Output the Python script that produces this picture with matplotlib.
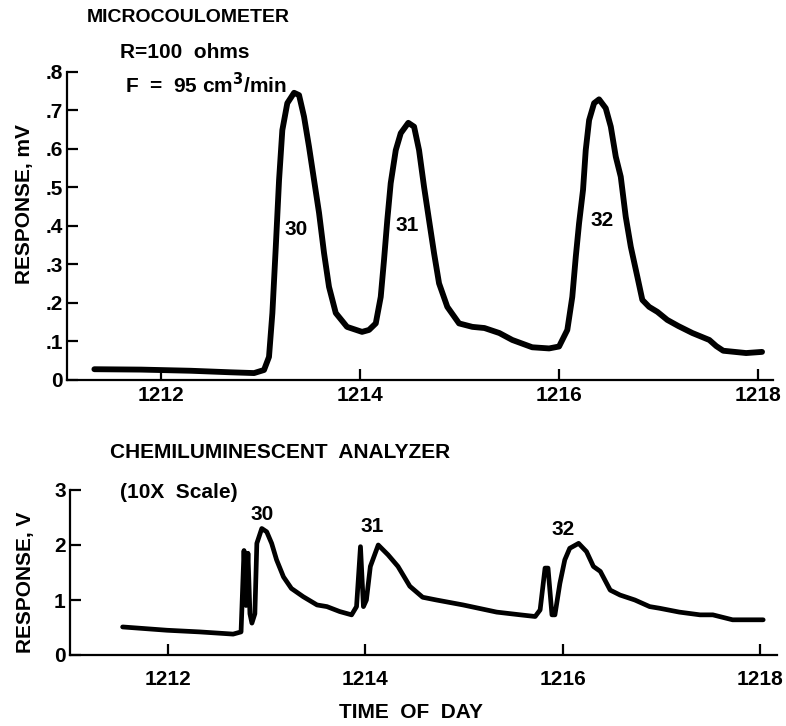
import matplotlib
matplotlib.use("Agg")
import matplotlib.pyplot as plt

# Microcoulometer trace (time of day, response in mV)
mc_time = [1211.33, 1211.80, 1212.30, 1212.70, 1212.935, 1213.035, 1213.085, 1213.119,
           1213.153, 1213.186, 1213.219, 1213.269, 1213.337, 1213.387, 1213.437, 1213.487,
           1213.538, 1213.588, 1213.638, 1213.688, 1213.756, 1213.869, 1214.020, 1214.090,
           1214.158, 1214.208, 1214.241, 1214.274, 1214.308, 1214.359, 1214.409, 1214.485,
           1214.543, 1214.593, 1214.643, 1214.693, 1214.744, 1214.794, 1214.877, 1214.995,
           1215.129, 1215.25, 1215.40, 1215.53, 1215.73, 1215.90, 1216.000, 1216.083,
           1216.133, 1216.168, 1216.201, 1216.241, 1216.268, 1216.302, 1216.352, 1216.402,
           1216.469, 1216.520, 1216.570, 1216.620, 1216.670, 1216.721, 1216.787, 1216.837,
           1216.905, 1216.988, 1217.088, 1217.20, 1217.34, 1217.51, 1217.58, 1217.65,
           1217.88, 1218.04]
mc_resp = [0.028, 0.027, 0.024, 0.020, 0.018, 0.026, 0.060, 0.174,
           0.345, 0.519, 0.649, 0.719, 0.746, 0.740, 0.684, 0.606,
           0.519, 0.434, 0.330, 0.242, 0.174, 0.138, 0.125, 0.130,
           0.147, 0.216, 0.312, 0.416, 0.511, 0.597, 0.641, 0.668,
           0.658, 0.597, 0.502, 0.416, 0.329, 0.251, 0.190, 0.147,
           0.138, 0.135, 0.122, 0.104, 0.085, 0.082, 0.087, 0.130,
           0.216, 0.320, 0.407, 0.494, 0.597, 0.675, 0.719, 0.729,
           0.706, 0.658, 0.580, 0.528, 0.424, 0.346, 0.268, 0.208,
           0.190, 0.177, 0.156, 0.140, 0.122, 0.104, 0.088, 0.076,
           0.070, 0.073]

# Chemiluminescent analyzer trace (time of day, response in V)
cl_time = [1211.54, 1211.99, 1212.32, 1212.66, 1212.74, 1212.77, 1212.79, 1212.81, 1212.83,
           1212.85, 1212.88, 1212.90, 1212.95, 1213.00, 1213.05, 1213.10, 1213.17, 1213.25,
           1213.37, 1213.51, 1213.61, 1213.74, 1213.86, 1213.91, 1213.95, 1213.98, 1214.01,
           1214.05, 1214.13, 1214.23, 1214.33, 1214.45, 1214.58, 1214.72, 1214.99, 1215.33,
           1215.57, 1215.72, 1215.77, 1215.82, 1215.85, 1215.89, 1215.92, 1215.97, 1216.02,
           1216.07, 1216.16, 1216.24, 1216.31, 1216.38, 1216.48, 1216.58, 1216.73, 1216.88,
           1216.98, 1217.18, 1217.39, 1217.52, 1217.72, 1218.03]
cl_resp = [0.51, 0.45, 0.42, 0.38, 0.42, 1.90, 0.90, 1.85, 0.75,
           0.58, 0.75, 2.03, 2.30, 2.24, 2.03, 1.73, 1.42, 1.21,
           1.06, 0.91, 0.88, 0.79, 0.73, 0.88, 1.97, 0.88, 1.00,
           1.61, 2.00, 1.82, 1.61, 1.25, 1.05, 1.00, 0.91, 0.78,
           0.73, 0.70, 0.82, 1.58, 1.58, 0.73, 0.73, 1.30, 1.73,
           1.94, 2.03, 1.88, 1.61, 1.52, 1.18, 1.09, 1.00, 0.88,
           0.85, 0.78, 0.73, 0.73, 0.64, 0.64]

# Sample labels placed on each peak
peak_names = ["30", "31", "32"]
mc_label_x = [1213.36, 1214.47, 1216.43]
mc_label_y = [0.39, 0.40, 0.415]
cl_label_x = [1212.95, 1214.07, 1216.00]
cl_label_y = [2.55, 2.33, 2.29]

x_ticks = [1212, 1214, 1216, 1218]
mc_yticks = [0, 0.1, 0.2, 0.3, 0.4, 0.5, 0.6, 0.7, 0.8]
mc_yticklabels = ["0", ".1", ".2", ".3", ".4", ".5", ".6", ".7", ".8"]
cl_yticks = [0, 1, 2, 3]
cl_yticklabels = ["0", "1", "2", "3"]

FONT = ["Liberation Sans", "DejaVu Sans"]
plt.rcParams["font.family"] = FONT
plt.rcParams["font.weight"] = "bold"

W, H = 786, 726
fig = plt.figure(figsize=(W / 100, H / 100), dpi=100)
fig.patch.set_facecolor("white")


def px_box(left, top, right, bottom):
    return [left / W, 1 - bottom / H, (right - left) / W, (bottom - top) / H]


def fx(x):
    return x / W


def fy(y):
    return 1 - y / H


def style_axes(ax, label_pad_x):
    for side in ("top", "right"):
        ax.spines[side].set_visible(False)
    for side in ("left", "bottom"):
        ax.spines[side].set_linewidth(1.6)
        ax.spines[side].set_color("black")
    ax.tick_params(axis="both", direction="in", length=8, width=1.6,
                   colors="black", labelsize=15)
    ax.tick_params(axis="y", pad=3)
    ax.tick_params(axis="x", pad=label_pad_x)
    for lab in ax.get_xticklabels() + ax.get_yticklabels():
        lab.set_fontweight("bold")


# Upper panel: microcoulometer
ax1 = fig.add_axes(px_box(67, 72, 773, 380))
ax1.plot(mc_time, mc_resp, color="black", lw=4.2, solid_joinstyle="round",
         solid_capstyle="round")
ax1.set_xlim(1211.055, 1218.15)
ax1.set_ylim(0, 0.8)
ax1.set_xticks(x_ticks)
ax1.set_xticklabels([str(t) for t in x_ticks])
ax1.set_yticks(mc_yticks)
ax1.set_yticklabels(mc_yticklabels)
style_axes(ax1, 4)
for name, x, y in zip(peak_names, mc_label_x, mc_label_y):
    ax1.text(x, y, name, ha="center", va="center", fontsize=15, fontweight="bold")

# Lower panel: chemiluminescent analyzer
ax2 = fig.add_axes(px_box(70, 490, 777, 655))
ax2.plot(cl_time, cl_resp, color="black", lw=3.4, solid_joinstyle="round",
         solid_capstyle="round")
ax2.set_xlim(1211.007, 1218.17)
ax2.set_ylim(0, 3)
ax2.set_xticks(x_ticks)
ax2.set_xticklabels([str(t) for t in x_ticks])
ax2.set_yticks(cl_yticks)
ax2.set_yticklabels(cl_yticklabels)
style_axes(ax2, 11)
for name, x, y in zip(peak_names, cl_label_x, cl_label_y):
    ax2.text(x, y, name, ha="center", va="center", fontsize=15, fontweight="bold")

# Titles and axis captions
fig.text(fx(188), fy(18), "MICROCOULOMETER", ha="center", va="center",
         fontsize=14, fontweight="bold")
fig.text(fx(120), fy(52), "R=100  ohms", ha="left", va="center",
         fontsize=15, fontweight="bold")
fig.text(fx(125), fy(85), "F  =  95 cm$^\\mathbf{3}$/min", ha="left", va="center",
         fontsize=15, fontweight="bold")
fig.text(fx(25), fy(204), "RESPONSE, mV", ha="center", va="center",
         rotation=90, fontsize=15, fontweight="bold")

fig.text(fx(110), fy(452), "CHEMILUMINESCENT  ANALYZER", ha="left", va="center",
         fontsize=15, fontweight="bold")
fig.text(fx(120), fy(493), "(10X  Scale)", ha="left", va="center",
         fontsize=15, fontweight="bold")
fig.text(fx(25), fy(582), "RESPONSE, V", ha="center", va="center",
         rotation=90, fontsize=15, fontweight="bold")
fig.text(fx(411), fy(713), "TIME  OF  DAY", ha="center", va="center",
         fontsize=15, fontweight="bold")

fig.savefig("out.png", dpi=100, facecolor="white")
